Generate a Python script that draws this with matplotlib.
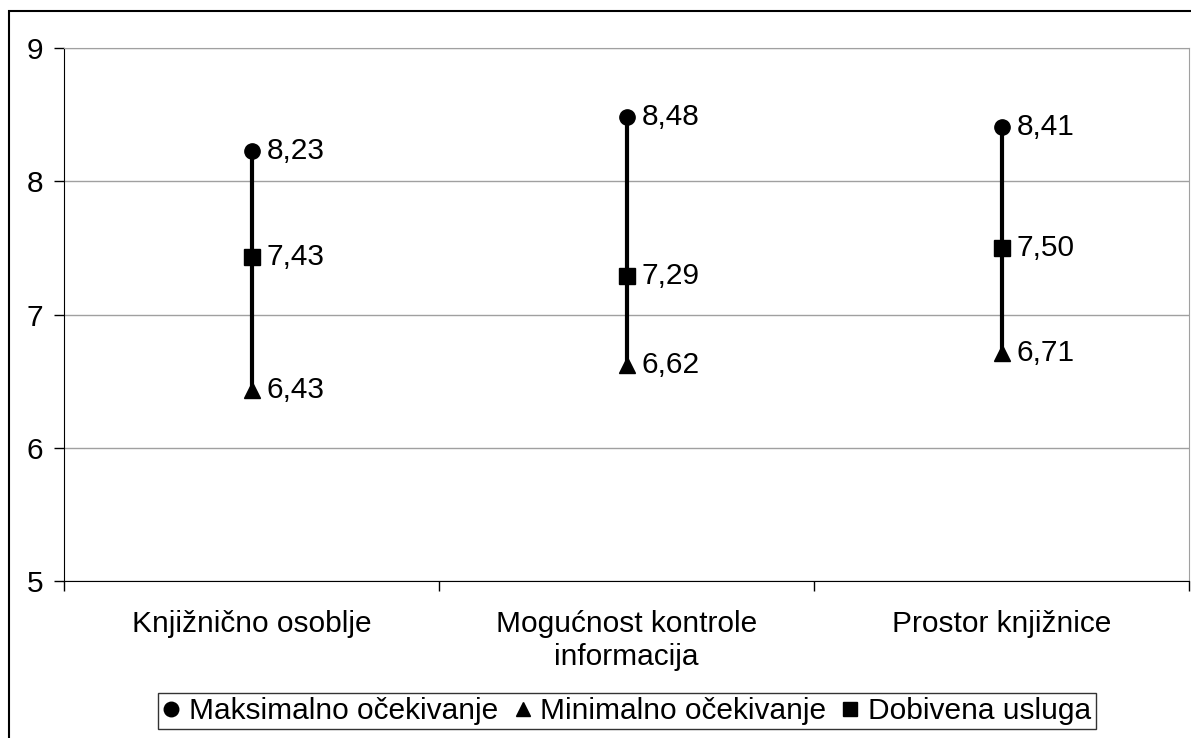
import matplotlib
matplotlib.use('agg')
import matplotlib.pyplot as plt
from matplotlib.patches import Rectangle
import numpy as np

plt.rcParams['font.family'] = ['Liberation Sans', 'DejaVu Sans']

categories = ['Knjižnično osoblje', 'Mogućnost kontrole\ninformacija', 'Prostor knjižnice']
maksimalno = [8.23, 8.48, 8.41]
minimalno = [6.43, 6.62, 6.71]
dobivena = [7.43, 7.29, 7.50]
series_names = ['Maksimalno očekivanje', 'Minimalno očekivanje', 'Dobivena usluga']

FS = 21.5


def fmt(v):
    return ('%.2f' % v).replace('.', ',')


fig = plt.figure(figsize=(11.91, 7.38), dpi=100)
ax = fig.add_axes([64 / 1191, 1 - 581 / 738, (1189 - 64) / 1191, (581 - 48) / 738])

x = np.arange(len(categories))
ax.vlines(x, minimalno, maksimalno, color='black', linewidth=3, zorder=3)
h1, = ax.plot(x, maksimalno, 'o', color='black', markersize=11, linestyle='none', zorder=4)
h2, = ax.plot(x, minimalno, '^', color='black', markersize=11, linestyle='none', zorder=4)
h3, = ax.plot(x, dobivena, 's', color='black', markersize=11, linestyle='none', zorder=4)

for series in (maksimalno, minimalno, dobivena):
    for xi, v in zip(x, series):
        ax.annotate(fmt(v), (xi, v), xytext=(11, 0), textcoords='offset points',
                    va='center', ha='left', fontsize=FS, zorder=5)

ax.set_xlim(-0.5, len(categories) - 0.5)
ax.set_ylim(5, 9)
ax.set_yticks([5, 6, 7, 8, 9])
ax.yaxis.grid(True, color='#a0a0a0', linewidth=1)
ax.set_axisbelow(True)
ax.tick_params(axis='y', labelsize=FS, length=7, width=1, direction='out', pad=8)

# category ticks sit on the boundaries, labels centred between them
ax.set_xticks(np.arange(len(categories) + 1) - 0.5)
ax.set_xticklabels([])
ax.set_xticks(x, minor=True)
ax.set_xticklabels(categories, minor=True, fontsize=FS)
ax.tick_params(axis='x', which='major', length=7, width=1, direction='out')
ax.tick_params(axis='x', which='minor', length=0, pad=21)

ax.spines['left'].set_color('black')
ax.spines['bottom'].set_color('black')
ax.spines['top'].set_color('#a0a0a0')
ax.spines['right'].set_color('#a0a0a0')

leg = fig.legend([h1, h2, h3], series_names, loc='center', ncol=3,
                 bbox_to_anchor=(627 / 1191, 1 - 711 / 738), fontsize=FS,
                 frameon=True, fancybox=False, edgecolor='black', markerscale=0.95,
                 handlelength=0.6, handletextpad=0.3, columnspacing=0.5,
                 borderpad=0.15, borderaxespad=0)
leg.get_frame().set_linewidth(1)

# outer chart border
fig.add_artist(Rectangle((8.5 / 1191, -0.5), 2, 1.5 - 11 / 738, transform=fig.transFigure,
                         fill=False, edgecolor='black', linewidth=1.5))

fig.savefig('out.png', dpi=100)
